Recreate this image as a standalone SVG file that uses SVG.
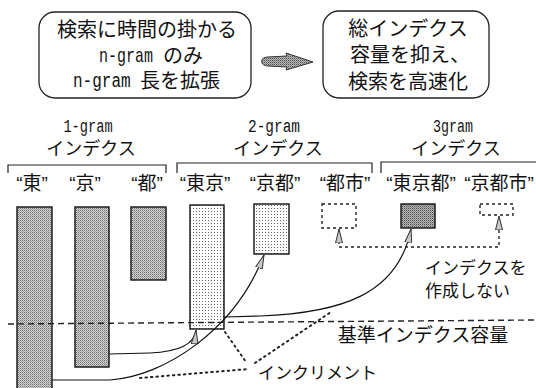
<svg xmlns="http://www.w3.org/2000/svg" width="536" height="388" viewBox="0 0 536 388">
<style>
.jp{font-family:'Liberation Sans','Noto Sans CJK JP',sans-serif;fill:#111}
.mono{font-family:'Liberation Mono',monospace;fill:#111}
.box{fill:#fff;stroke:#222;stroke-width:1.3}
.bar{stroke:#111;stroke-width:1.4}
.dbox{fill:none;stroke:#222;stroke-width:1.4;stroke-dasharray:3 3}
.brk{fill:none;stroke:#222;stroke-width:1.2}
.conn{fill:none;stroke:#111;stroke-width:1.2}
.dash{fill:none;stroke:#222;stroke-width:1.4;stroke-dasharray:3 3}
.dot{fill:none;stroke:#222;stroke-width:2;stroke-dasharray:1.5 4;stroke-linecap:round}
.base{fill:none;stroke:#222;stroke-width:1.4;stroke-dasharray:6 4}
</style>
<defs>
<pattern id="pGray" width="2" height="2" patternUnits="userSpaceOnUse">
<rect width="2" height="2" fill="#d6d6d6"/>
<rect width="1" height="1" fill="#6e6e6e"/>
<rect x="1" y="1" width="1" height="1" fill="#9a9a9a"/>
</pattern>
<pattern id="pDark" width="2" height="2" patternUnits="userSpaceOnUse">
<rect width="2" height="2" fill="#bdbdbd"/>
<rect width="1" height="1" fill="#4a4a4a"/>
<rect x="1" y="1" width="1" height="1" fill="#808080"/>
</pattern>
<pattern id="pDot" width="3" height="3" patternUnits="userSpaceOnUse">
<rect width="3" height="3" fill="#fff"/>
<rect x="1" y="1" width="1" height="1" fill="#666"/>
</pattern>
<marker id="ah" viewBox="0 0 14 8" refX="14" refY="4" markerWidth="14" markerHeight="8" markerUnits="userSpaceOnUse" orient="auto-start-reverse">
<path d="M0,0.5 L14,4 L0,7.5 Z" fill="#c8c8c8" stroke="#333" stroke-width="1"/>
</marker>
</defs>
<rect width="536" height="388" fill="#fff"/>

<g id="box-left">
<rect class="box" x="39" y="12" width="212" height="86" rx="16"/>
<text class="jp" x="147" y="37" font-size="20" text-anchor="middle">検索に時間の掛かる</text>
<text class="mono" font-size="20" transform="translate(99,62) scale(0.75,1)">n-gram</text>
<text class="jp" x="163" y="63" font-size="20">のみ</text>
<text class="mono" font-size="20" transform="translate(73,87) scale(0.8,1)">n-gram</text>
<text class="jp" x="140" y="88" font-size="20">長を拡張</text>
</g>

<g id="big-arrow">
<path d="M268,57 L287,56 L286,53 L313,62 L286,70 L287,67 L268,66 C260,66 259,57 268,57 Z" fill="url(#pDark)" stroke="#333" stroke-width="1"/>
</g>

<g id="box-right">
<rect class="box" x="323" y="11" width="166" height="87" rx="16"/>
<text class="jp" x="408" y="36" font-size="20" text-anchor="middle">総インデクス</text>
<text class="jp" x="410" y="62" font-size="20" text-anchor="middle">容量を抑え、</text>
<text class="jp" x="408" y="89" font-size="20" text-anchor="middle">検索を高速化</text>
</g>

<g id="header-1gram">
<text class="mono" font-size="19" text-anchor="middle" transform="translate(88,132) scale(0.72,1)">1-gram</text>
<text class="jp" x="91" y="155" font-size="18" text-anchor="middle">インデクス</text>
<path class="brk" d="M8,173 L8,165 L166,165 L166,173"/>
</g>
<g id="header-2gram">
<text class="mono" font-size="19" text-anchor="middle" transform="translate(274,132) scale(0.76,1)">2-gram</text>
<text class="jp" x="278" y="155" font-size="18" text-anchor="middle">インデクス</text>
<path class="brk" d="M177,173 L177,163 L372,163 L372,173"/>
</g>
<g id="header-3gram">
<text class="mono" font-size="19" text-anchor="middle" transform="translate(453,132) scale(0.7,1)">3gram</text>
<text class="jp" x="456" y="155" font-size="18" text-anchor="middle">インデクス</text>
<path class="brk" d="M381,173 L381,162 L536,162"/>
</g>

<g id="node-higashi">
<text class="jp" x="32" y="190" font-size="19" text-anchor="middle">“東”</text>
<rect class="bar" x="17" y="207" width="35" height="190" fill="url(#pGray)"/>
</g>
<g id="node-kyo">
<text class="jp" x="85" y="190" font-size="19" text-anchor="middle">“京”</text>
<rect class="bar" x="75" y="207" width="34" height="160" fill="url(#pGray)"/>
</g>
<g id="node-to">
<text class="jp" x="147" y="190" font-size="19" text-anchor="middle">“都”</text>
<rect class="bar" x="131" y="207" width="35" height="73" fill="url(#pGray)"/>
</g>
<g id="node-tokyo">
<text class="jp" x="205" y="190" font-size="19" text-anchor="middle">“東京”</text>
<rect class="bar" x="190" y="205" width="34" height="124" fill="url(#pDot)"/>
</g>
<g id="node-kyoto">
<text class="jp" x="275" y="190" font-size="19" text-anchor="middle">“京都”</text>
<rect class="bar" x="254" y="204" width="35" height="50" fill="url(#pDot)"/>
</g>
<g id="node-toshi">
<text class="jp" x="345" y="190" font-size="19" text-anchor="middle">“都市”</text>
<rect class="dbox" x="322" y="204" width="34" height="24"/>
</g>
<g id="node-tokyoto">
<text class="jp" x="421" y="190" font-size="19" text-anchor="middle">“東京都”</text>
<rect class="bar" x="401" y="204" width="34" height="24" fill="url(#pDark)"/>
</g>
<g id="node-kyotoshi">
<text class="jp" x="499" y="190" font-size="19" text-anchor="middle">“京都市”</text>
<rect class="dbox" x="480" y="204" width="33" height="11"/>
</g>

<g id="baseline">
<path class="base" d="M8,324 L534,320"/>
<text class="jp" x="423" y="342" font-size="19" text-anchor="middle">基準インデクス容量</text>
</g>

<g id="connectors">
<path class="conn" d="M109,354 L150,353 Q194,351 196,330" marker-end="url(#ah)"/>
<path class="conn" d="M52,380 L110,380 C165,376 235,330 264,255" marker-end="url(#ah)"/>
<path class="conn" d="M224,317 L260,316 C340,313 398,295 411,229" marker-end="url(#ah)"/>
<path class="dash" d="M339,229 L339,247 L499,247 L499,216" marker-start="url(#ah)" marker-end="url(#ah)"/>
<path class="dot" d="M140,378 L249,369"/>
<path class="dot" d="M225,332 L246,362"/>
<path class="dot" d="M255,363 L331,312"/>
</g>

<g id="labels">
<text class="jp" x="425" y="274" font-size="17">インデクスを</text>
<text class="jp" x="425" y="297" font-size="17">作成しない</text>
<text class="jp" x="258" y="379" font-size="17">インクリメント</text>
</g>
</svg>
